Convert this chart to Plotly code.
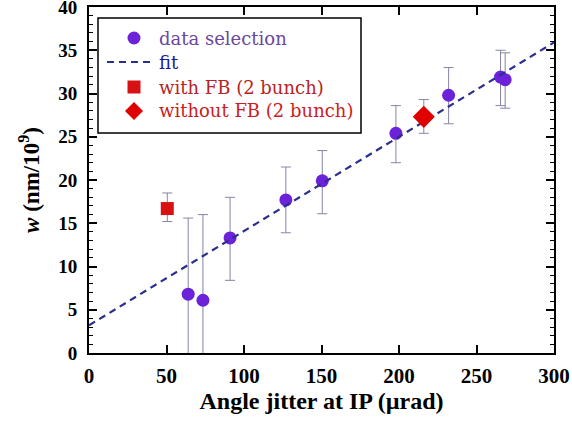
import plotly.graph_objects as go

# data selection (circles)
sel_x = [64, 73.5, 91, 127, 150.5, 198, 232, 265.5, 268.5]
sel_y = [6.8, 6.1, 13.3, 17.7, 19.9, 25.4, 29.8, 31.9, 31.6]
sel_hi = [15.6, 16.0, 18.0, 21.5, 23.4, 28.6, 33.0, 35.0, 34.7]
sel_lo = [-2.0, -2.0, 8.4, 13.9, 16.1, 22.0, 26.5, 28.6, 28.3]

# with FB (2 bunch)
fb_x = [50.5]
fb_y = [16.7]
fb_hi = [18.5]
fb_lo = [15.2]

# without FB (2 bunch)
nofb_x = [216]
nofb_y = [27.3]
nofb_hi = [29.3]
nofb_lo = [25.4]

# fit line endpoints
fit_x = [0, 300]
fit_y = [3.2, 35.9]

x_ticks = [0, 50, 100, 150, 200, 250, 300]
y_ticks = [0, 5, 10, 15, 20, 25, 30, 35, 40]

legend_labels = ["data selection", "fit", "with FB (2 bunch)", "without FB (2 bunch)"]
legend_colors = ["#6a48a0", "#1a1a9a", "#b52525", "#cc1c1c"]

FONT = "Liberation Serif"
LFONT = "DejaVu Serif"
ERRC = "#8585a5"
SEL_C = "#6b22d9"
FIT_C = "#2a2f8f"
FB_C = "#d81212"
NOFB_C = "#e00000"

W, H = 572, 421
ML, MR, MT, MB = 89, 18, 7, 68
PW, PH = W - ML - MR, H - MT - MB


def px(xp):
    return (xp - ML) / PW


def py(yp):
    return (H - MB - yp) / PH


def err(y, hi, lo):
    return dict(type="data", symmetric=False,
                array=[h - v for h, v in zip(hi, y)],
                arrayminus=[v - l for v, l in zip(y, lo)],
                color=ERRC, thickness=1, width=5)


fig = go.Figure()
fig.add_trace(go.Scatter(
    x=sel_x, y=sel_y, mode="markers", name=legend_labels[0],
    marker=dict(symbol="circle", size=13, color=SEL_C),
    error_y=err(sel_y, sel_hi, sel_lo)))
fig.add_trace(go.Scatter(
    x=fit_x, y=fit_y, mode="lines", name=legend_labels[1],
    line=dict(color=FIT_C, width=2.2, dash="7px,5px")))
fig.add_trace(go.Scatter(
    x=fb_x, y=fb_y, mode="markers", name=legend_labels[2],
    marker=dict(symbol="square", size=13, color=FB_C),
    error_y=err(fb_y, fb_hi, fb_lo)))
fig.add_trace(go.Scatter(
    x=nofb_x, y=nofb_y, mode="markers", name=legend_labels[3],
    marker=dict(symbol="diamond", size=17, color=NOFB_C),
    error_y=err(nofb_y, nofb_hi, nofb_lo)))

# ---- hand-built legend box (layout only) ----
row_y = [38, 62, 87, 111]
sym_x = 134
text_x = 157
shapes = [dict(type="rect", xref="paper", yref="paper",
               x0=px(98), x1=px(361), y0=py(133), y1=py(18),
               line=dict(color="black", width=1.5), fillcolor="white", layer="above")]
shapes.append(dict(type="circle", xref="paper", yref="paper",
                   xsizemode="pixel", ysizemode="pixel",
                   xanchor=px(sym_x), yanchor=py(row_y[0]),
                   x0=-6.5, x1=6.5, y0=-6.5, y1=6.5,
                   fillcolor=SEL_C, line=dict(width=0)))
shapes.append(dict(type="line", xref="paper", yref="paper",
                   x0=px(107), x1=px(155), y0=py(row_y[1]), y1=py(row_y[1]),
                   line=dict(color=FIT_C, width=2.2, dash="7px,5px")))
shapes.append(dict(type="rect", xref="paper", yref="paper",
                   xsizemode="pixel", ysizemode="pixel",
                   xanchor=px(sym_x), yanchor=py(row_y[2]),
                   x0=-6.5, x1=6.5, y0=-6.5, y1=6.5,
                   fillcolor=FB_C, line=dict(width=0)))
shapes.append(dict(type="path", xref="paper", yref="paper",
                   xsizemode="pixel", ysizemode="pixel",
                   xanchor=px(sym_x), yanchor=py(row_y[3]),
                   path="M 0,9 L 9,0 L 0,-9 L -9,0 Z",
                   fillcolor=NOFB_C, line=dict(width=0)))

annotations = []
for lab, col, ry in zip(legend_labels, legend_colors, row_y):
    annotations.append(dict(
        text=lab, xref="paper", yref="paper", x=px(text_x), y=py(ry),
        xanchor="left", yanchor="middle", showarrow=False,
        font=dict(family=LFONT, size=18, color=col)))

axis_common = dict(
    showline=True, linecolor="black", linewidth=2, mirror="allticks",
    ticks="inside", tickcolor="black", tickwidth=1.5, ticklen=8,
    showgrid=False, zeroline=False, ticklabeloverflow="allow",
    automargin=False,
)

fig.update_xaxes(
    range=[0, 300], tickvals=x_ticks, ticklabelstandoff=3,
    tickfont=dict(family=FONT, size=21, color="black", weight="bold"),
    title=dict(text="<b>Angle jitter at IP (µrad)</b>",
               font=dict(family=FONT, size=24, color="black"), standoff=0),
    **axis_common)
fig.update_yaxes(
    range=[0, 40], tickvals=y_ticks, ticklabelstandoff=6,
    tickfont=dict(family=FONT, size=19, color="black", weight="bold"),
    minor=dict(dtick=1, ticks="inside", ticklen=4, tickcolor="black", tickwidth=1),
    title=dict(text="<b><i>w</i> (nm/10<sup>9</sup>)</b>",
               font=dict(family=FONT, size=23, color="black"), standoff=12),
    **axis_common)

fig.update_layout(
    width=W, height=H,
    margin=dict(l=ML, r=MR, t=MT, b=MB),
    paper_bgcolor="white", plot_bgcolor="white",
    font=dict(family=FONT),
    showlegend=False,
    shapes=shapes,
    annotations=annotations,
)

fig.write_html("out.html")
